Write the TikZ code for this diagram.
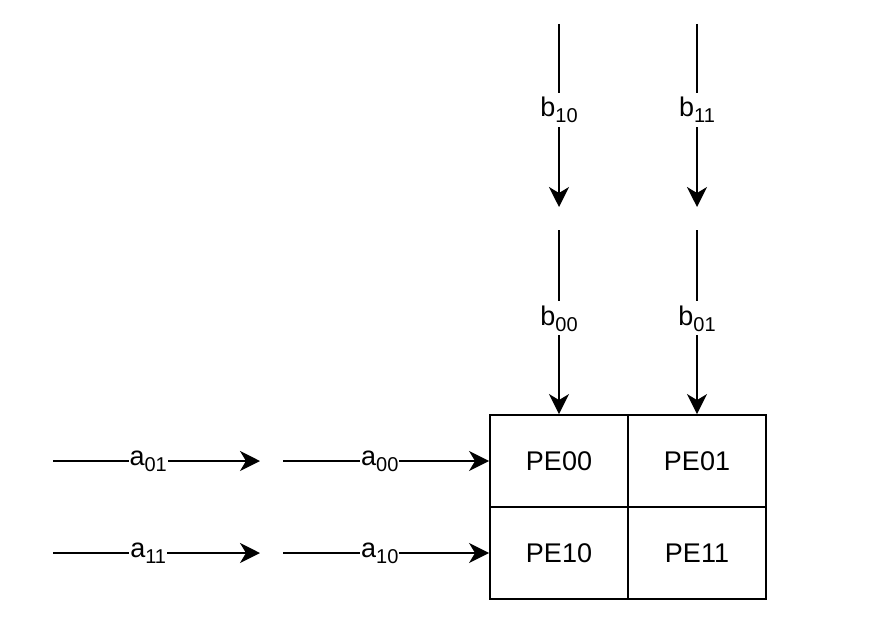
\documentclass[tikz,border=0pt]{standalone}
\usepackage{fontspec}
\setmainfont{Liberation Sans}
\usetikzlibrary{arrows.meta}
\newcommand\subsc[1]{\raisebox{-6pt}{\fontsize{20}{20}\selectfont #1}}
\tikzset{
  cell/.style={draw, line width=1.9pt, minimum width=138pt, minimum height=92pt, inner sep=0pt, font=\fontsize{27}{27}\selectfont},
  flow/.style={line width=1.9pt, -{Stealth[length=20pt,width=20pt,inset=6pt]}},
  lbl/.style={fill=white, inner xsep=1pt, inner ysep=4pt, font=\fontsize{27}{27}\selectfont}
}
\begin{document}
\begin{tikzpicture}[x=1pt,y=-1pt]
\useasboundingbox (0,0) rectangle (882,642);
% PE grid
\node[cell] (pe00) at (559,461) {PE00};
\node[cell] (pe01) at (697,461) {PE01};
\node[cell] (pe10) at (559,553) {PE10};
\node[cell] (pe11) at (697,553) {PE11};
% free ends
\coordinate (b10s) at (559,24);
\coordinate (b10e) at (559,207);
\coordinate (b11s) at (697,24);
\coordinate (b11e) at (697,207);
\coordinate (b00s) at (559,230);
\coordinate (b01s) at (697,230);
\coordinate (a01s) at (53,461);
\coordinate (a01e) at (260,461);
\coordinate (a00s) at (283,461);
\coordinate (a11s) at (53,553);
\coordinate (a11e) at (260,553);
\coordinate (a10s) at (283,553);
% vertical flows
\draw[flow] (b10s) -- node[lbl,pos=0.47] (lb10) {b\subsc{10}} (b10e);
\draw[flow] (b11s) -- node[lbl,pos=0.47] (lb11) {b\subsc{11}} (b11e);
\draw[flow] (b00s) -- node[lbl,pos=0.48] (lb00) {b\subsc{00}} (pe00.north);
\draw[flow] (b01s) -- node[lbl,pos=0.48] (lb01) {b\subsc{01}} (pe01.north);
% horizontal flows
\draw[flow] (a01s) -- node[lbl,pos=0.46] (la01) {a\subsc{01}} (a01e);
\draw[flow] (a00s) -- node[lbl,pos=0.47] (la00) {a\subsc{00}} (pe00.west);
\draw[flow] (a11s) -- node[lbl,pos=0.46] (la11) {a\subsc{11}} (a11e);
\draw[flow] (a10s) -- node[lbl,pos=0.47] (la10) {a\subsc{10}} (pe10.west);
\end{tikzpicture}
\end{document}
